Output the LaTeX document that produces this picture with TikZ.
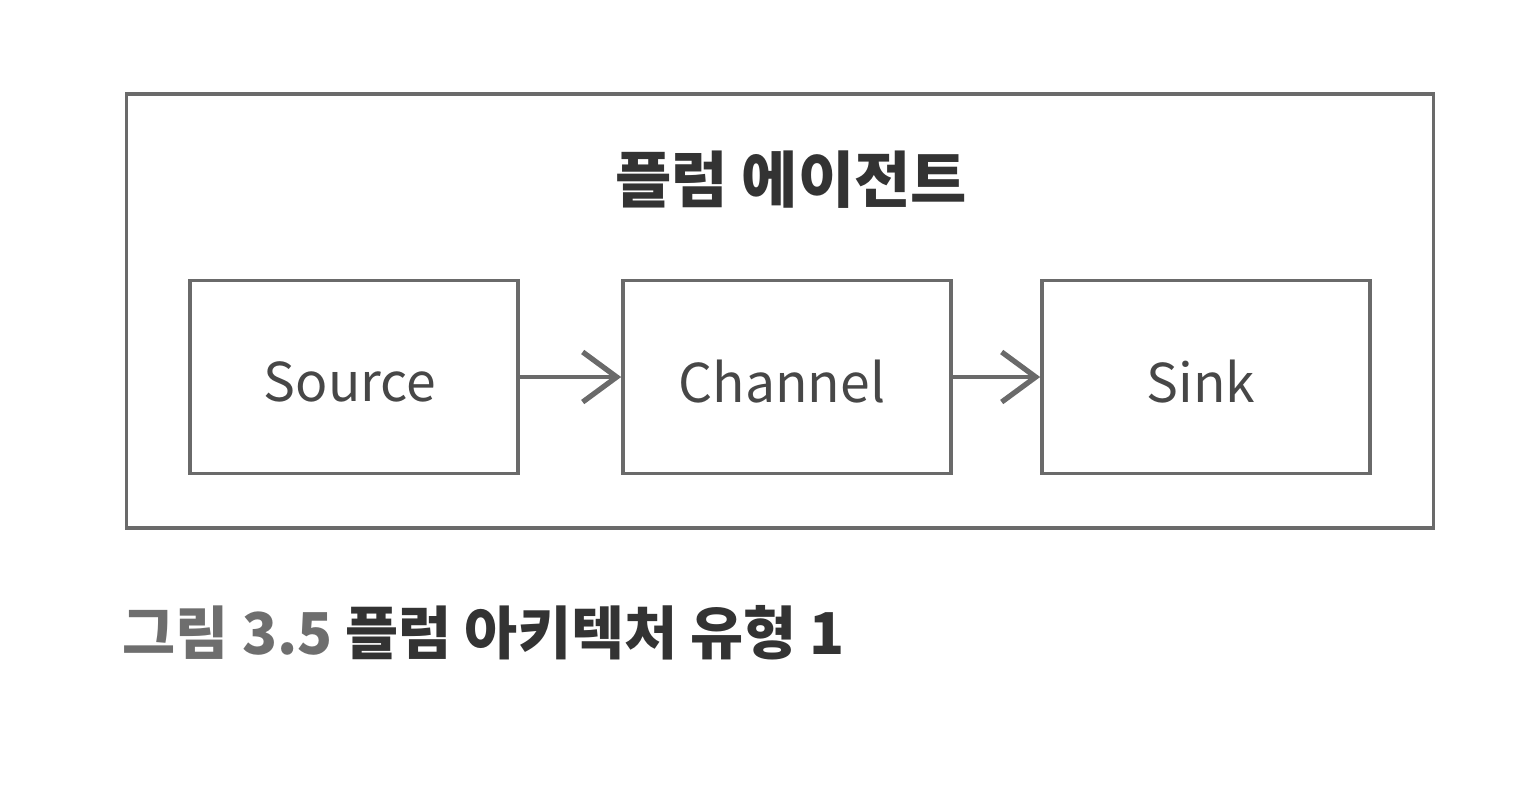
\documentclass[tikz,border=0pt]{standalone}
\usepackage{fontspec}
\setmainfont{Noto Sans CJK KR}
\usetikzlibrary{arrows.meta}
\definecolor{linegray}{HTML}{6A6A6A}
\definecolor{textgray}{HTML}{474747}
\definecolor{capgray}{HTML}{6E6E6E}
\tikzset{
  comp/.style={draw=linegray, line width=1pt, minimum width=3.28cm, minimum height=1.93cm, inner sep=0pt},
  complabel/.style={font=\fontsize{15.2}{18}\selectfont, text=textgray, inner sep=0pt},
  flow/.style={draw=linegray, line width=1.1pt, -{Straight Barb[length=0.34cm, width=0.5cm, line width=1.5pt]}}
}
\begin{document}
\begin{tikzpicture}[x=0.01cm,y=-0.01cm]
\useasboundingbox (0,0) rectangle (1534,796);
\node[draw=linegray, line width=1pt, minimum width=13.06cm, minimum height=4.34cm, inner sep=0pt] (agent) at (780,311) {};
\node[font=\bfseries\fontsize{17.4}{20}\selectfont, text=black!80] (title) at (791,180) {플럼 에이전트};
\node[comp] (src) at (354,377) {};
\node[comp] (ch) at (787,377) {};
\node[comp] (sink) at (1206,377) {};
\node[complabel] (srcl) at (350,382) {Source};
\node[complabel] (chl) at (782,382) {Channel};
\node[complabel] (sinkl) at (1201,382) {Sink};
\draw[flow] (src.east) -- (ch.west);
\draw[flow] (ch.east) -- (sink.west);
\node[anchor=west, font=\bfseries\fontsize{16.4}{19}\selectfont, inner sep=0pt] (cap) at (122,633) {\textcolor{capgray}{그림 3.5} \textcolor{black!80}{플럼 아키텍처 유형 1}};
\end{tikzpicture}
\end{document}
